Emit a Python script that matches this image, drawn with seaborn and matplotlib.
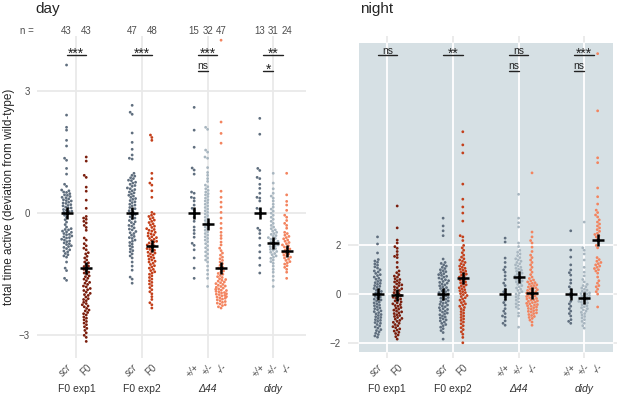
import matplotlib
matplotlib.use("Agg")
import matplotlib.pyplot as plt
import matplotlib.transforms as mtransforms
from matplotlib.patches import Rectangle
import pandas as pd
import seaborn as sns

# groups and genotypes
groups = ["F0 exp1", "F0 exp2", "Δ44", "didy"]
groupItalic = [False, False, True, True]
subLabels = [["scr", "F0"], ["scr", "F0"], ["+/+", "+/-", "-/-"], ["+/+", "+/-", "-/-"]]
subItalic = [[True, False], [True, False], [True, True, True], [True, True, True]]
subKeys = [["wt", "f0a"], ["wt", "f0b"], ["wt", "het", "ko"], ["wt", "het", "ko"]]
nCounts = [[43, 43], [47, 48], [15, 32, 47], [13, 31, 24]]
palette = {"wt": "#5f6e7e", "f0a": "#7a1d0c", "f0b": "#c4401b",
           "het": "#a8b6c0", "ko": "#f3845f"}

# day values (deviation from wild-type)
dayExp1Scr = [3.64, 2.41, 2.11, 2.04, 1.79, 1.65, 1.35, 1.30, 1.10, 0.96, 0.71, 0.66, 0.57,
              0.55, 0.52, 0.51, 0.48, 0.45, 0.44, 0.41, 0.39, 0.38, 0.35, 0.33, 0.31, 0.30, 0.27,
              0.25, 0.24, 0.21, 0.19, 0.18, 0.15, 0.13, 0.12, 0.09, 0.07, 0.05, 0.04, 0.02, 0.0,
              -0.05, -0.1, -0.16, -0.22, -0.28, -0.34,
              -0.38, -0.4, -0.41, -0.44, -0.46, -0.47, -0.5, -0.52, -0.53, -0.56, -0.58, -0.6, -0.61,
              -0.64, -0.66, -0.68, -0.7, -0.73, -0.75, -0.77, -0.8, -0.82, -0.84, -0.87, -0.9, -0.93,
              -0.95, -0.99, -1.02, -1.05, -1.08, -1.2, -1.35, -1.41, -1.6, -1.65]
dayExp1F0 = [1.38, 1.28, 0.93, 0.88, 0.64, 0.54, 0.32, 0.12,
             -0.08, -0.12, -0.15, -0.2, -0.24, -0.3, -0.35, -0.42,
             -0.61, -0.66, -0.75, -0.8, -0.86, -0.9, -0.97, -1.0, -1.06, -1.1, -1.15,
             -1.2, -1.22, -1.26, -1.3, -1.31, -1.35, -1.38, -1.42, -1.45, -1.47, -1.5, -1.54, -1.56,
             -1.6, -1.62, -1.66, -1.7, -1.72, -1.75, -1.79, -1.81, -1.85, -1.88, -1.9, -1.94, -1.97,
             -2.0, -2.02, -2.06, -2.1, -2.12, -2.15, -2.19, -2.22, -2.25, -2.28, -2.3, -2.34, -2.38,
             -2.4, -2.44, -2.47, -2.5, -2.55, -2.58, -2.62, -2.66, -2.7, -2.74, -2.79, -2.83, -2.88,
             -2.94, -3.0, -3.05, -3.15]
dayExp2Scr = [2.65, 2.48, 2.43, 1.97, 1.74, 1.57, 1.43, 1.35, 1.33,
              0.98, 0.93, 0.91, 0.87, 0.85, 0.81, 0.8, 0.76, 0.74, 0.71, 0.68, 0.66, 0.62, 0.6, 0.58,
              0.55, 0.52, 0.5, 0.47, 0.44, 0.42, 0.39, 0.36, 0.34, 0.31, 0.28, 0.26, 0.22, 0.2, 0.18,
              0.14, 0.11, 0.1, 0.06, 0.03, 0.0, -0.03, -0.05, -0.09, -0.12, -0.14, -0.18, -0.21,
              -0.23, -0.27, -0.3, -0.32, -0.36, -0.39, -0.41, -0.45, -0.48, -0.5, -0.54, -0.57, -0.6,
              -0.62, -0.66, -0.69, -0.72, -0.76, -0.8, -0.83, -0.88, -0.92, -0.95, -1.0, -1.05,
              -1.1, -1.2, -1.3, -1.4, -1.57, -1.62, -1.72]
dayExp2F0 = [1.92, 1.86, 1.79, 0.98, 0.85, 0.74, 0.69, 0.55, 0.39,
             0.02, -0.02, -0.05, -0.08, -0.11, -0.14, -0.17, -0.2, -0.23, -0.26, -0.29, -0.32, -0.35,
             -0.38, -0.4, -0.42, -0.44, -0.47, -0.49, -0.51, -0.53, -0.56, -0.58, -0.6, -0.62, -0.64,
             -0.67, -0.69, -0.71, -0.73, -0.76, -0.78, -0.8, -0.82, -0.85, -0.87, -0.89, -0.91,
             -0.94, -0.96, -0.98, -1.0, -1.03, -1.05, -1.08, -1.1, -1.13, -1.15, -1.18, -1.2, -1.23,
             -1.26, -1.29, -1.32, -1.35, -1.38, -1.41, -1.44, -1.47, -1.5, -1.54, -1.58, -1.62,
             -1.66, -1.7, -1.74, -1.78, -1.83, -1.88, -1.93, -1.98, -2.05, -2.12, -2.2, -2.25, -2.33]
dayD44Wt = [2.6, 2.04, 1.62, 1.11, 1.06, 0.96, 0.52, 0.49, 0.39, 0.37, 0.3, 0.2, 0.12, 0.07, 0.0,
            -0.1, -0.2, -0.34, -0.42, -0.5, -0.59, -0.74, -0.79, -0.9, -1.1, -1.35, -1.6]
dayD44Het = [2.11, 2.06, 1.55, 1.5, 1.38, 1.35, 1.12, 1.0, 0.93, 0.85, 0.78, 0.69, 0.65, 0.6, 0.56,
             0.52, 0.48, 0.45, 0.41, 0.37, 0.33, 0.3, 0.26, 0.22, 0.18, 0.14, 0.1, 0.06, 0.02, -0.02,
             -0.06, -0.1, -0.14, -0.18, -0.22, -0.26, -0.3, -0.34, -0.38, -0.42, -0.46, -0.5, -0.54,
             -0.58, -0.62, -0.66, -0.7, -0.75, -0.8, -0.85, -0.9, -0.95, -1.0, -1.05, -1.1, -1.15,
             -1.2, -1.3, -1.4, -1.5, -1.6, -1.8]
dayD44Ko = [4.25, 2.24, 1.96, 1.72, 0.54, 0.39, 0.27, 0.15, 0.02, -0.12, -0.25, -0.37, -0.47, -0.55,
            -0.62, -0.71, -0.78, -0.86, -0.92, -0.98, -1.03, -1.08, -1.12, -1.16, -1.2, -1.24, -1.28,
            -1.32, -1.35, -1.38, -1.42, -1.45, -1.48, -1.5, -1.53, -1.56, -1.58, -1.61, -1.63, -1.65,
            -1.67, -1.69, -1.71, -1.73, -1.75, -1.77, -1.79, -1.8, -1.82, -1.84, -1.86, -1.87, -1.89,
            -1.9, -1.92, -1.93, -1.95, -1.96, -1.98, -1.99, -2.0, -2.02, -2.03, -2.05, -2.06, -2.08,
            -2.09, -2.11, -2.13, -2.15, -2.17, -2.19, -2.21, -2.23, -2.25, -2.27, -2.3, -2.33]
dayDidyWt = [2.33, 1.94, 1.1, 1.05, 0.88, 0.85, 0.71, 0.61, 0.49, 0.39, 0.37, 0.3, 0.12, 0.1, -0.37,
             -0.42, -0.5, -0.61, -0.79, -0.95, -1.1, -1.28, -1.47]
dayDidyHet = [0.98, 0.74, 0.6, 0.49, 0.42, 0.37, 0.3, 0.22, 0.15, 0.1, 0.05, 0.0, -0.05, -0.1, -0.15,
              -0.2, -0.25, -0.3, -0.34, -0.38, -0.41, -0.44, -0.47, -0.5, -0.52, -0.55, -0.57, -0.6,
              -0.62, -0.64, -0.67, -0.69, -0.71, -0.73, -0.76, -0.78, -0.8, -0.82, -0.84, -0.87,
              -0.89, -0.91, -0.94, -0.96, -0.99, -1.02, -1.05, -1.08, -1.11, -1.15, -1.19, -1.23,
              -1.3, -1.38, -1.45, -1.55, -1.65, -1.8]
dayDidyKo = [0.98, 0.45, 0.29, 0.2, 0.07, -0.05, -0.1, -0.18, -0.25, -0.3, -0.37, -0.47, -0.5, -0.54,
             -0.57, -0.6, -0.63, -0.66, -0.69, -0.72, -0.75, -0.78, -0.8, -0.83, -0.86, -0.88, -0.91,
             -0.93, -0.96, -0.98, -1.0, -1.03, -1.05, -1.08, -1.1, -1.13, -1.16, -1.19, -1.22, -1.25,
             -1.29, -1.33, -1.38, -1.45, -1.6]

# night values
nightExp1Scr = [2.35, 2.06, 1.69, 1.42, 1.36, 1.31, 1.24, 1.19, 1.12, 1.07, 1.0, 0.95, 0.91, 0.85, 0.8,
                0.76, 0.7, 0.65, 0.61, 0.56, 0.52, 0.47, 0.44, 0.4, 0.35, 0.32, 0.28, 0.23, 0.2, 0.16,
                0.11, 0.08, 0.04, 0.0, -0.04, -0.09, -0.12, -0.16, -0.21, -0.24, -0.28, -0.33, -0.36,
                -0.4, -0.45, -0.48, -0.52, -0.57, -0.6, -0.64, -0.69, -0.72, -0.76, -0.81, -0.84,
                -0.88, -0.93, -0.96, -1.0, -1.05, -1.08, -1.12, -1.17, -1.2, -1.25, -1.31, -1.35,
                -1.4, -1.46, -1.5, -1.55, -1.61, -1.66, -1.72, -1.77]
nightExp1F0 = [3.62, 2.72, 2.22, 2.1, 1.95, 1.88, 1.75, 1.62, 1.55, 1.5, 1.3, 1.1, 0.95, 0.88, 0.8,
               0.74, 0.7, 0.63, 0.6, 0.55, 0.5, 0.47, 0.42, 0.38, 0.35, 0.3, 0.26, 0.22, 0.18, 0.15,
               0.1, 0.06, 0.02, -0.02, -0.06, -0.1, -0.13, -0.17, -0.2, -0.25, -0.28, -0.32, -0.36,
               -0.4, -0.43, -0.47, -0.5, -0.55, -0.58, -0.62, -0.66, -0.7, -0.73, -0.77, -0.8, -0.85,
               -0.88, -0.92, -0.96, -1.0, -1.03, -1.08, -1.12, -1.16, -1.2, -1.25, -1.3, -1.34, -1.38,
               -1.43, -1.48, -1.52, -1.57, -1.62, -1.68, -1.75, -1.85]
nightExp2Scr = [3.12, 2.8, 2.6, 2.4, 1.44, 1.3, 1.26, 1.2, 1.15, 1.1, 1.05, 1.0, 0.96, 0.92, 0.88,
                0.84, 0.8, 0.77, 0.73, 0.7, 0.66, 0.62, 0.59, 0.55, 0.52, 0.48, 0.45, 0.41, 0.38,
                0.34, 0.3, 0.27, 0.23, 0.2, 0.16, 0.13, 0.1, 0.06, 0.03, 0.0, -0.03, -0.07, -0.1,
                -0.14, -0.17, -0.21, -0.24, -0.28, -0.31, -0.35, -0.38, -0.42, -0.45, -0.49, -0.52,
                -0.56, -0.6, -0.63, -0.67, -0.7, -0.74, -0.78, -0.82, -0.85, -0.9, -0.94, -0.98,
                -1.02, -1.06, -1.1, -1.15, -1.2, -1.25, -1.3, -1.36, -1.42, -1.5, -1.58, -1.85]
nightExp2F0 = [6.67, 6.13, 5.8, 4.52, 3.9, 3.58, 3.33, 3.0, 2.4, 2.35, 2.2, 2.0, 1.9, 1.8, 1.7, 1.6,
               1.52, 1.45, 1.4, 1.35, 1.3, 1.25, 1.2, 1.15, 1.1, 1.06, 1.02, 0.98, 0.94, 0.9, 0.86,
               0.82, 0.78, 0.74, 0.7, 0.66, 0.62, 0.58, 0.54, 0.5, 0.46, 0.42, 0.38, 0.34, 0.3, 0.26,
               0.22, 0.18, 0.14, 0.1, 0.06, 0.02, -0.02, -0.06, -0.1, -0.15, -0.2, -0.25, -0.3, -0.35,
               -0.4, -0.45, -0.5, -0.55, -0.6, -0.66, -0.72, -0.78, -0.84, -0.9, -0.96, -1.02, -1.08,
               -1.15, -1.22, -1.3, -1.38, -1.46, -1.55, -1.65, -1.78, -2.0]
nightD44Wt = [2.3, 2.14, 1.48, 1.3, 1.11, 1.0, 0.9, 0.75, 0.6, 0.45, 0.35, 0.2, 0.1, 0.0, -0.12, -0.25,
              -0.35, -0.45, -0.6, -0.7, -0.8, -0.9, -0.95, -1.1, -1.2, -1.28]
nightD44Het = [4.1, 3.12, 2.93, 2.76, 2.1, 1.95, 1.8, 1.72, 1.65, 1.58, 1.5, 1.45, 1.4, 1.35, 1.3,
               1.25, 1.2, 1.15, 1.1, 1.06, 1.02, 0.98, 0.94, 0.9, 0.86, 0.82, 0.78, 0.74, 0.7, 0.66,
               0.62, 0.58, 0.54, 0.5, 0.45, 0.4, 0.35, 0.3, 0.25, 0.2, 0.15, 0.1, 0.05, 0.0, -0.06,
               -0.12, -0.18, -0.25, -0.32, -0.4, -0.46, -0.53, -0.6, -0.78, -0.9, -1.36]
nightD44Ko = [4.98, 2.55, 2.35, 2.2, 2.1, 1.93, 1.75, 1.6, 1.5, 1.4, 1.3, 1.2, 1.1, 1.0, 0.9, 0.8,
              0.7, 0.64, 0.58, 0.54, 0.5, 0.47, 0.44, 0.41, 0.38, 0.35, 0.32, 0.29, 0.26, 0.23, 0.2,
              0.18, 0.15, 0.12, 0.1, 0.07, 0.04, 0.02, 0.0, -0.03, -0.05, -0.08, -0.1, -0.13, -0.15,
              -0.18, -0.2, -0.23, -0.25, -0.28, -0.3, -0.33, -0.35, -0.38, -0.4, -0.43, -0.45, -0.48,
              -0.5, -0.53, -0.56, -0.59, -0.62, -0.65, -0.68, -0.71, -0.74, -0.77, -0.8, -0.84,
              -0.88, -0.92, -0.96, -1.0, -1.07, -1.15, -1.28]
nightDidyWt = [2.6, 1.81, 1.52, 1.2, 0.99, 0.88, 0.78, 0.58, 0.45, 0.3, 0.2, 0.05, -0.1, -0.3, -0.4,
               -0.5, -0.6, -0.7, -0.8, -0.9, -1.05, -1.12, -1.2]
nightDidyHet = [2.96, 1.9, 1.8, 1.65, 1.4, 1.1, 0.9, 0.75, 0.6, 0.5, 0.4, 0.35, 0.3, 0.25, 0.2, 0.16,
                0.12, 0.08, 0.05, 0.02, 0.0, -0.03, -0.06, -0.09, -0.12, -0.15, -0.18, -0.21, -0.24,
                -0.27, -0.3, -0.33, -0.36, -0.4, -0.44, -0.48, -0.52, -0.56, -0.6, -0.65, -0.7, -0.75,
                -0.8, -0.86, -0.92, -0.98, -1.05, -1.12, -1.2, -1.3, -1.4]
nightDidyKo = [9.88, 7.53, 5.6, 5.4, 4.36, 4.0, 3.7, 3.45, 3.35, 3.25, 3.17, 3.05, 2.96, 2.88, 2.8,
               2.72, 2.65, 2.58, 2.5, 2.45, 2.4, 2.35, 2.25, 2.0, 1.9, 1.5, 1.42, 1.35, 1.3, 1.25, 1.2,
               1.15, 1.1, 1.05, 1.0, 0.95, 0.86, 0.7, 0.55, 0.45, 0.35, 0.3, 0.2, 0.1, 0.0, -0.53]

# group means (black crosses) and significance labels
dayMeans = [[0, -1.35], [0, -0.81], [0, -0.27, -1.35], [0, -0.74, -0.93]]
nightMeans = [[0, -0.04], [0, 0.68], [0, 0.7, 0.05], [0, -0.18, 2.24]]
daySig = [["***"], ["***"], ["***", "ns"], ["**", "*"]]
nightSig = [["ns"], ["**"], ["ns", "ns"], ["***", "ns"]]

dayValues = [[dayExp1Scr, dayExp1F0], [dayExp2Scr, dayExp2F0],
             [dayD44Wt, dayD44Het, dayD44Ko], [dayDidyWt, dayDidyHet, dayDidyKo]]
nightValues = [[nightExp1Scr, nightExp1F0], [nightExp2Scr, nightExp2F0],
               [nightD44Wt, nightD44Het, nightD44Ko], [nightDidyWt, nightDidyHet, nightDidyKo]]

OFFSETS = {2: [-0.15, 0.15], 3: [-0.205, 0.0, 0.205]}
GRID = "#e9e9e9"
TXT = "#4d4d4d"


def subPositions(gi):
    return [gi + o for o in OFFSETS[len(subKeys[gi])]]


def groupFrame(values, gi):
    rows = []
    for si, vals in enumerate(values[gi]):
        x = subPositions(gi)[si]
        for v in vals:
            rows.append({"x": x, "value": v, "key": subKeys[gi][si]})
    return pd.DataFrame(rows)


def drawPanel(ax, values, means, sigs, ylim, yticks, shaded):
    ax.set_xlim(-0.6, 3.5)
    ax.set_ylim(*ylim)
    for side in ax.spines.values():
        side.set_visible(False)

    # background grid
    for g in range(len(groups)):
        ax.axvline(g, color=GRID, lw=1.3, zorder=0)
    for yt in yticks:
        ax.axhline(yt, color=GRID, lw=1.3, zorder=0)
    if shaded:
        x0, x1, y0, y1 = 0.041, 0.985, 0.019, 0.978
        ax.add_patch(Rectangle((x0, y0), x1 - x0, y1 - y0, transform=ax.transAxes,
                               facecolor="#d6e0e4", edgecolor="none", zorder=0.5))
        for g in range(len(groups)):
            ax.axvline(g, ymin=y0, ymax=y1, color="white", lw=1.3, zorder=0.6)
        for yt in yticks:
            ax.axhline(yt, xmin=x0, xmax=x1, color="white", lw=1.3, zorder=0.6)

    # one swarm call per group so the two-genotype groups can spread wider
    for gi in range(len(groups)):
        sns.swarmplot(data=groupFrame(values, gi), x="x", y="value", hue="key", palette=palette,
                      native_scale=True, orient="x", size=2.0, linewidth=0, legend=False,
                      warn_thresh=1, ax=ax, zorder=3)
        ax.plot(subPositions(gi), means[gi], ls="none", marker="+", ms=9, mew=1.8,
                color="black", zorder=5)
    ax.set_xlim(-0.6, 3.5)
    ax.set_ylim(*ylim)

    # significance bars
    trans = mtransforms.blended_transform_factory(ax.transData, ax.transAxes)
    starTrans = mtransforms.offset_copy(trans, fig=ax.figure, y=-2.5, units="dots")
    nsTrans = mtransforms.offset_copy(trans, fig=ax.figure, y=1.5, units="dots")
    for gi, labels in enumerate(sigs):
        for li, lab in enumerate(labels):
            yl = 0.941 if li == 0 else 0.892
            xa, xb = (gi - 0.15, gi + 0.15) if li == 0 else (gi - 0.15, gi)
            ax.plot([xa, xb], [yl, yl], color="#222222", lw=1.0, transform=trans,
                    clip_on=False, zorder=6)
            if lab.startswith("*"):
                ax.text((xa + xb) / 2, yl, lab, transform=starTrans, ha="center", va="baseline",
                        fontsize=10, color="#222222", clip_on=False)
            else:
                ax.text((xa + xb) / 2, yl, lab, transform=nsTrans, ha="center", va="baseline",
                        fontsize=7.5, color="#222222", clip_on=False)

    # axis ticks and labels
    ax.set_xlabel("")
    ax.set_ylabel("")
    ax.set_yticks(yticks)
    ax.set_yticklabels([str(t).replace("-", "\u2212") for t in yticks])
    ticks, labels = [], []
    for gi in range(len(groups)):
        ticks += subPositions(gi)
        labels += subLabels[gi]
    ax.set_xticks(ticks)
    ax.set_xticklabels(labels, rotation=45, ha="right", va="top", rotation_mode="anchor")
    italics = [it for row in subItalic for it in row]
    for lbl, it in zip(ax.get_xticklabels(), italics):
        lbl.set_fontstyle("italic" if it else "normal")
    ax.tick_params(axis="both", length=0, labelsize=7, labelcolor=TXT)
    ax.tick_params(axis="x", pad=3)
    ax.tick_params(axis="y", pad=5)
    ax.grid(False)

    for gi, name in enumerate(groups):
        ax.text(gi, -0.095, name, transform=trans, ha="center", va="center", fontsize=7.5,
                color="#333333", style="italic" if groupItalic[gi] else "normal")


def main():
    sns.set_style("white")
    plt.rcParams["font.family"] = ["Liberation Sans", "DejaVu Sans"]

    fig = plt.figure(figsize=(6.17, 3.97), dpi=100)
    axDay = fig.add_axes([0.060, 0.098, 0.436, 0.811])
    axNight = fig.add_axes([0.564, 0.098, 0.436, 0.811])

    drawPanel(axDay, dayValues, dayMeans, daySig, (-3.56, 4.35), [-3, 0, 3], False)
    drawPanel(axNight, nightValues, nightMeans, nightSig, (-2.63, 10.6), [-2, 0, 2], True)

    # sample sizes above the day panel
    trans = mtransforms.blended_transform_factory(axDay.transData, axDay.transAxes)
    axDay.text(-0.037, 1.016, "n =", transform=axDay.transAxes, ha="center", va="center",
               fontsize=7, color=TXT)
    for gi in range(len(groups)):
        for x, n in zip(subPositions(gi), nCounts[gi]):
            axDay.text(x, 1.016, str(n), transform=trans, ha="center", va="center",
                       fontsize=7, color=TXT, clip_on=False)

    fig.text(0.058, 0.966, "day", fontsize=11, va="baseline", ha="left")
    fig.text(0.583, 0.966, "night", fontsize=11, va="baseline", ha="left")
    fig.text(0.014, 0.504, "total time active (deviation from wild-type)", rotation=90,
             ha="center", va="center", fontsize=8.5)

    fig.savefig("out.png", dpi=100)
    plt.close(fig)


if __name__ == "__main__":
    main()
